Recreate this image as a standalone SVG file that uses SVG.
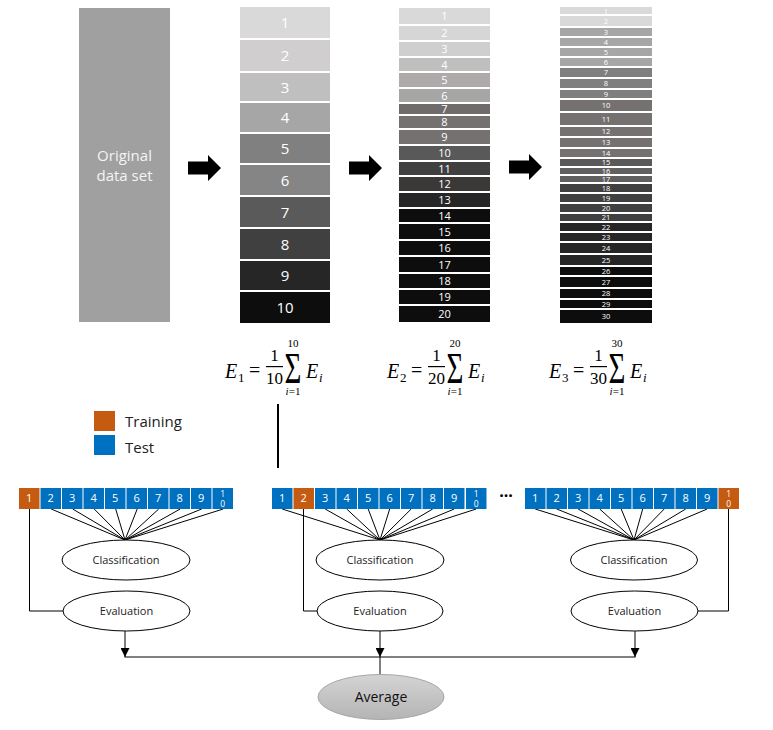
<svg xmlns="http://www.w3.org/2000/svg" width="773" height="730" viewBox="0 0 773 730">
<defs>
<style>
.t{font-family:"Open Sans","Noto Sans",sans-serif;fill:#fff;text-anchor:middle}
.c1{font-size:15px}.c2{font-size:11px}.c3{font-size:7.5px}
.bx{font-family:"Open Sans","Noto Sans",sans-serif;fill:#fff;text-anchor:middle;font-size:11px}
.bs{font-size:8.5px}
.lbl{font-family:"Open Sans","Noto Sans",sans-serif;fill:#222;text-anchor:middle;font-size:11px}
.leg{font-family:"Open Sans","Noto Sans",sans-serif;fill:#222;font-size:15px}
.m{font-family:"Liberation Serif","DejaVu Serif",serif;fill:#000}
.mi{font-style:italic}
.blue{fill:#0070c0}.orange{fill:#c55a11}
.ln{stroke:#000;stroke-width:1;fill:none}
.el{fill:#fff;stroke:#000;stroke-width:1}
</style>
<marker id="ah" viewBox="0 0 10 10" refX="10" refY="5" markerWidth="9" markerHeight="9" markerUnits="userSpaceOnUse" orient="auto">
<path d="M0,0 L10,5 L0,10 z" fill="#000"/>
</marker>
<linearGradient id="avg" x1="0" y1="0" x2="0" y2="1">
<stop offset="0" stop-color="#d4d4d4"/><stop offset="1" stop-color="#b4b4b4"/>
</linearGradient>
<path id="arr" d="M0,-6.5 L20,-6.5 L20,-13 L33,0 L20,13 L20,6.5 L0,6.5 z" fill="#000"/>
</defs>
<rect width="773" height="730" fill="#fff"/>

<g id="original">
<rect x="79" y="8" width="91" height="314" fill="#a0a0a0"/>
<text class="t" x="124.5" y="161" style="font-size:15px;fill:#f4f4f4">Original</text>
<text class="t" x="124.5" y="181" style="font-size:15px;fill:#f4f4f4">data set</text>
</g>

<g id="arrows">
<use href="#arr" x="188" y="168"/>
<use href="#arr" x="349" y="168"/>
<use href="#arr" x="509" y="167"/>
</g>

<g id="col10">
<rect x="240" y="7" width="90" height="31" fill="#d9d9d9"/><text class="t c1" x="285" y="28">1</text>
<rect x="240" y="40" width="90" height="31" fill="#d0cece"/><text class="t c1" x="285" y="61">2</text>
<rect x="240" y="73" width="90" height="28" fill="#bfbfbf"/><text class="t c1" x="285" y="92.5">3</text>
<rect x="240" y="103" width="90" height="29" fill="#a6a6a6"/><text class="t c1" x="285" y="123">4</text>
<rect x="240" y="134" width="90" height="29" fill="#808080"/><text class="t c1" x="285" y="154">5</text>
<rect x="240" y="165" width="90" height="30" fill="#858585"/><text class="t c1" x="285" y="185.5">6</text>
<rect x="240" y="197" width="90" height="30" fill="#5a5a5a"/><text class="t c1" x="285" y="217.5">7</text>
<rect x="240" y="229" width="90" height="30" fill="#404040"/><text class="t c1" x="285" y="249.5">8</text>
<rect x="240" y="261" width="90" height="29" fill="#262626"/><text class="t c1" x="285" y="281">9</text>
<rect x="240" y="292" width="90" height="31" fill="#0d0d0d"/><text class="t c1" x="285" y="313">10</text>
</g>

<g id="col20">
<rect x="399" y="8" width="91" height="16" fill="#d9d9d9"/><text class="t c2" x="444.5" y="20">1</text>
<rect x="399" y="26" width="91" height="14" fill="#d6d6d6"/><text class="t c2" x="444.5" y="37">2</text>
<rect x="399" y="42" width="91" height="14" fill="#cfcfcf"/><text class="t c2" x="444.5" y="53">3</text>
<rect x="399" y="58" width="91" height="13" fill="#bfbfbf"/><text class="t c2" x="444.5" y="68.5">4</text>
<rect x="399" y="73" width="91" height="14" fill="#aeaaaa"/><text class="t c2" x="444.5" y="84">5</text>
<rect x="399" y="89" width="91" height="13" fill="#a6a6a6"/><text class="t c2" x="444.5" y="99.5">6</text>
<rect x="399" y="104" width="91" height="10" fill="#6f6b6b"/><text class="t c2" x="444.5" y="113">7</text>
<rect x="399" y="116" width="91" height="12" fill="#767171"/><text class="t c2" x="444.5" y="126">8</text>
<rect x="399" y="130" width="91" height="14" fill="#767171"/><text class="t c2" x="444.5" y="141">9</text>
<rect x="399" y="146" width="91" height="14" fill="#595959"/><text class="t c2" x="444.5" y="157">10</text>
<rect x="399" y="162" width="91" height="13" fill="#404040"/><text class="t c2" x="444.5" y="172.5">11</text>
<rect x="399" y="177" width="91" height="14" fill="#3b3838"/><text class="t c2" x="444.5" y="188">12</text>
<rect x="399" y="193" width="91" height="14" fill="#262626"/><text class="t c2" x="444.5" y="204">13</text>
<rect x="399" y="209" width="91" height="13" fill="#0d0d0d"/><text class="t c2" x="444.5" y="219.5">14</text>
<rect x="399" y="224" width="91" height="15" fill="#0d0d0d"/><text class="t c2" x="444.5" y="235.5">15</text>
<rect x="399" y="241" width="91" height="14" fill="#0d0d0d"/><text class="t c2" x="444.5" y="252">16</text>
<rect x="399" y="257" width="91" height="15" fill="#0d0d0d"/><text class="t c2" x="444.5" y="268.5">17</text>
<rect x="399" y="274" width="91" height="14" fill="#0d0d0d"/><text class="t c2" x="444.5" y="285">18</text>
<rect x="399" y="290" width="91" height="14" fill="#0d0d0d"/><text class="t c2" x="444.5" y="301">19</text>
<rect x="399" y="306" width="91" height="16" fill="#0d0d0d"/><text class="t c2" x="444.5" y="318">20</text>
</g>

<g id="col30">
<rect x="560" y="7" width="92" height="7" fill="#d9d9d9"/><text class="t c3" x="606" y="13.5">1</text>
<rect x="560" y="16" width="92" height="10" fill="#d9d9d9"/><text class="t c3" x="606" y="23.5">2</text>
<rect x="560" y="28" width="92" height="8" fill="#a6a6a6"/><text class="t c3" x="606" y="34.5">3</text>
<rect x="560" y="38" width="92" height="8" fill="#a6a6a6"/><text class="t c3" x="606" y="44.5">4</text>
<rect x="560" y="48" width="92" height="8" fill="#a6a6a6"/><text class="t c3" x="606" y="54.5">5</text>
<rect x="560" y="58" width="92" height="8" fill="#a6a6a6"/><text class="t c3" x="606" y="64.5">6</text>
<rect x="560" y="68" width="92" height="9" fill="#7f7f7f"/><text class="t c3" x="606" y="75">7</text>
<rect x="560" y="79" width="92" height="9" fill="#7f7f7f"/><text class="t c3" x="606" y="86">8</text>
<rect x="560" y="90" width="92" height="8" fill="#7f7f7f"/><text class="t c3" x="606" y="96.5">9</text>
<rect x="560" y="100" width="92" height="11" fill="#767171"/><text class="t c3" x="606" y="108">10</text>
<rect x="560" y="113" width="92" height="12" fill="#767171"/><text class="t c3" x="606" y="121.5">11</text>
<rect x="560" y="127" width="92" height="9" fill="#767171"/><text class="t c3" x="606" y="134">12</text>
<rect x="560" y="138" width="92" height="9" fill="#767171"/><text class="t c3" x="606" y="145">13</text>
<rect x="560" y="149" width="92" height="8" fill="#767171"/><text class="t c3" x="606" y="155.5">14</text>
<rect x="560" y="159" width="92" height="7" fill="#595959"/><text class="t c3" x="606" y="165">15</text>
<rect x="560" y="168" width="92" height="6" fill="#606060"/><text class="t c3" x="606" y="173.5">16</text>
<rect x="560" y="176" width="92" height="6" fill="#606060"/><text class="t c3" x="606" y="181.5">17</text>
<rect x="560" y="184" width="92" height="8" fill="#404040"/><text class="t c3" x="606" y="190.5">18</text>
<rect x="560" y="194" width="92" height="8" fill="#404040"/><text class="t c3" x="606" y="200.5">19</text>
<rect x="560" y="204" width="92" height="8" fill="#404040"/><text class="t c3" x="606" y="210.5">20</text>
<rect x="560" y="214" width="92" height="7" fill="#404040"/><text class="t c3" x="606" y="220">21</text>
<rect x="560" y="223" width="92" height="8" fill="#262626"/><text class="t c3" x="606" y="229.5">22</text>
<rect x="560" y="233" width="92" height="8" fill="#262626"/><text class="t c3" x="606" y="239.5">23</text>
<rect x="560" y="243" width="92" height="10" fill="#262626"/><text class="t c3" x="606" y="250.5">24</text>
<rect x="560" y="255" width="92" height="10" fill="#262626"/><text class="t c3" x="606" y="262.5">25</text>
<rect x="560" y="267" width="92" height="8" fill="#0d0d0d"/><text class="t c3" x="606" y="273.5">26</text>
<rect x="560" y="277" width="92" height="10" fill="#0d0d0d"/><text class="t c3" x="606" y="284.5">27</text>
<rect x="560" y="289" width="92" height="9" fill="#0d0d0d"/><text class="t c3" x="606" y="296">28</text>
<rect x="560" y="300" width="92" height="8" fill="#0d0d0d"/><text class="t c3" x="606" y="306.5">29</text>
<rect x="560" y="310" width="92" height="13" fill="#0d0d0d"/><text class="t c3" x="606" y="319">30</text>
</g>

<g id="formula1">
<text x="225" y="378" font-size="20" class="m mi">E</text>
<text x="238" y="382" font-size="13" class="m">1</text>
<text x="249" y="377" font-size="20" class="m">=</text>
<text x="274.5" y="361" font-size="17" text-anchor="middle" class="m">1</text>
<rect x="266" y="366" width="17" height="1.2" fill="#000"/>
<text x="274.5" y="384" font-size="17" text-anchor="middle" class="m">10</text>
<text transform="translate(293,383) scale(1,1.5)" font-size="29" text-anchor="middle" class="m">Σ</text>
<text x="293" y="347" font-size="11" text-anchor="middle" class="m">10</text>
<text x="293" y="395" font-size="11" text-anchor="middle" class="m"><tspan class="mi">i</tspan>=1</text>
<text x="306" y="378" font-size="20" class="m mi">E</text>
<text x="319" y="382" font-size="13" class="m mi">i</text>
</g>

<g id="formula2">
<text x="387" y="378" font-size="20" class="m mi">E</text>
<text x="400" y="382" font-size="13" class="m">2</text>
<text x="411" y="377" font-size="20" class="m">=</text>
<text x="436.5" y="361" font-size="17" text-anchor="middle" class="m">1</text>
<rect x="428" y="366" width="17" height="1.2" fill="#000"/>
<text x="436.5" y="384" font-size="17" text-anchor="middle" class="m">20</text>
<text transform="translate(455,383) scale(1,1.5)" font-size="29" text-anchor="middle" class="m">Σ</text>
<text x="455" y="347" font-size="11" text-anchor="middle" class="m">20</text>
<text x="455" y="395" font-size="11" text-anchor="middle" class="m"><tspan class="mi">i</tspan>=1</text>
<text x="468" y="378" font-size="20" class="m mi">E</text>
<text x="481" y="382" font-size="13" class="m mi">i</text>
</g>

<g id="formula3">
<text x="549" y="378" font-size="20" class="m mi">E</text>
<text x="562" y="382" font-size="13" class="m">3</text>
<text x="573" y="377" font-size="20" class="m">=</text>
<text x="598.5" y="361" font-size="17" text-anchor="middle" class="m">1</text>
<rect x="590" y="366" width="17" height="1.2" fill="#000"/>
<text x="598.5" y="384" font-size="17" text-anchor="middle" class="m">30</text>
<text transform="translate(617,383) scale(1,1.5)" font-size="29" text-anchor="middle" class="m">Σ</text>
<text x="617" y="347" font-size="11" text-anchor="middle" class="m">30</text>
<text x="617" y="395" font-size="11" text-anchor="middle" class="m"><tspan class="mi">i</tspan>=1</text>
<text x="630" y="378" font-size="20" class="m mi">E</text>
<text x="643" y="382" font-size="13" class="m mi">i</text>
</g>

<g id="legend">
<rect x="94" y="411" width="21" height="20" class="orange"/>
<text class="leg" x="125" y="427">Training</text>
<rect x="94" y="435" width="21" height="20" class="blue"/>
<text class="leg" x="125" y="453">Test</text>
</g>

<g id="connectors">
<line x1="278" y1="404" x2="278" y2="468" stroke="#000" stroke-width="2"/>
<path class="ln" d="M51.2,509 L125,540 M72.7,509 L125,540 M94.2,509 L125,540 M115.7,509 L125,540 M137.2,509 L125,540 M158.7,509 L125,540 M180.2,509 L125,540 M201.7,509 L125,540 M223.2,509 L125,540"/>
<path class="ln" d="M29.5,509 L29.5,611 L63,611"/>
<path class="ln" d="M282.2,509 L380,540 M325.2,509 L380,540 M346.7,509 L380,540 M368.2,509 L380,540 M389.7,509 L380,540 M411.2,509 L380,540 M432.7,509 L380,540 M454.2,509 L380,540 M476.2,509 L380,540"/>
<path class="ln" d="M303.5,509 L303.5,611 L317,611"/>
<path class="ln" d="M535.2,509 L634,540 M556.7,509 L634,540 M578.2,509 L634,540 M599.7,509 L634,540 M621.2,509 L634,540 M642.7,509 L634,540 M664.2,509 L634,540 M685.7,509 L634,540 M707.2,509 L634,540"/>
<path class="ln" d="M728.5,509 L728.5,611 L698,611"/>
<line class="ln" x1="125" y1="631" x2="125" y2="657" marker-end="url(#ah)"/>
<line class="ln" x1="380" y1="631" x2="380" y2="657" marker-end="url(#ah)"/>
<line class="ln" x1="635" y1="631" x2="635" y2="657" marker-end="url(#ah)"/>
<line class="ln" x1="124.5" y1="657" x2="635.5" y2="657"/>
<line class="ln" x1="380" y1="657" x2="380" y2="675"/>
</g>

<g id="row1">
<rect x="19" y="488" width="20.5" height="21" class="orange"/><text class="bx" x="29.2" y="502">1</text>
<rect x="40.5" y="488" width="20.5" height="21" class="blue"/><text class="bx" x="50.7" y="502">2</text>
<rect x="62" y="488" width="20.5" height="21" class="blue"/><text class="bx" x="72.2" y="502">3</text>
<rect x="83.5" y="488" width="20.5" height="21" class="blue"/><text class="bx" x="93.7" y="502">4</text>
<rect x="105" y="488" width="20.5" height="21" class="blue"/><text class="bx" x="115.2" y="502">5</text>
<rect x="126.5" y="488" width="20.5" height="21" class="blue"/><text class="bx" x="136.7" y="502">6</text>
<rect x="148" y="488" width="20.5" height="21" class="blue"/><text class="bx" x="158.2" y="502">7</text>
<rect x="169.5" y="488" width="20.5" height="21" class="blue"/><text class="bx" x="179.7" y="502">8</text>
<rect x="191" y="488" width="20.5" height="21" class="blue"/><text class="bx" x="201.2" y="502">9</text>
<rect x="212.5" y="488" width="20.5" height="21" class="blue"/><text class="bx bs" x="222.7" y="497">1</text><text class="bx bs" x="222.7" y="507">0</text>
</g>

<g id="row2">
<rect x="272" y="488" width="20.5" height="21" class="blue"/><text class="bx" x="282.2" y="502">1</text>
<rect x="293.5" y="488" width="20.5" height="21" class="orange"/><text class="bx" x="303.7" y="502">2</text>
<rect x="315" y="488" width="20.5" height="21" class="blue"/><text class="bx" x="325.2" y="502">3</text>
<rect x="336.5" y="488" width="20.5" height="21" class="blue"/><text class="bx" x="346.7" y="502">4</text>
<rect x="358" y="488" width="20.5" height="21" class="blue"/><text class="bx" x="368.2" y="502">5</text>
<rect x="379.5" y="488" width="20.5" height="21" class="blue"/><text class="bx" x="389.7" y="502">6</text>
<rect x="401" y="488" width="20.5" height="21" class="blue"/><text class="bx" x="411.2" y="502">7</text>
<rect x="422.5" y="488" width="20.5" height="21" class="blue"/><text class="bx" x="432.7" y="502">8</text>
<rect x="444" y="488" width="20.5" height="21" class="blue"/><text class="bx" x="454.2" y="502">9</text>
<rect x="466" y="488" width="20.5" height="21" class="blue"/><text class="bx bs" x="476.2" y="497">1</text><text class="bx bs" x="476.2" y="507">0</text>
</g>

<text id="ellipsis" x="506" y="501" text-anchor="middle" font-family="'Open Sans',sans-serif" font-size="16" font-weight="bold" fill="#000">···</text>

<g id="row3">
<rect x="525" y="488" width="20.5" height="21" class="blue"/><text class="bx" x="535.2" y="502">1</text>
<rect x="546.5" y="488" width="20.5" height="21" class="blue"/><text class="bx" x="556.7" y="502">2</text>
<rect x="568" y="488" width="20.5" height="21" class="blue"/><text class="bx" x="578.2" y="502">3</text>
<rect x="589.5" y="488" width="20.5" height="21" class="blue"/><text class="bx" x="599.7" y="502">4</text>
<rect x="611" y="488" width="20.5" height="21" class="blue"/><text class="bx" x="621.2" y="502">5</text>
<rect x="632.5" y="488" width="20.5" height="21" class="blue"/><text class="bx" x="642.7" y="502">6</text>
<rect x="654" y="488" width="20.5" height="21" class="blue"/><text class="bx" x="664.2" y="502">7</text>
<rect x="675.5" y="488" width="20.5" height="21" class="blue"/><text class="bx" x="685.7" y="502">8</text>
<rect x="697" y="488" width="20.5" height="21" class="blue"/><text class="bx" x="707.2" y="502">9</text>
<rect x="718.5" y="488" width="20.5" height="21" class="orange"/><text class="bx bs" x="728.7" y="497">1</text><text class="bx bs" x="728.7" y="507">0</text>
</g>

<g id="classification1"><ellipse class="el" cx="126" cy="560" rx="64" ry="20"/><text class="lbl" x="126" y="564">Classification</text></g>
<g id="evaluation1"><ellipse class="el" cx="126.5" cy="611" rx="63.5" ry="20"/><text class="lbl" x="126.5" y="615">Evaluation</text></g>
<g id="classification2"><ellipse class="el" cx="380" cy="560" rx="64" ry="20"/><text class="lbl" x="380" y="564">Classification</text></g>
<g id="evaluation2"><ellipse class="el" cx="380" cy="611" rx="63" ry="20"/><text class="lbl" x="380" y="615">Evaluation</text></g>
<g id="classification3"><ellipse class="el" cx="634" cy="560" rx="63.5" ry="20"/><text class="lbl" x="634" y="564">Classification</text></g>
<g id="evaluation3"><ellipse class="el" cx="634.5" cy="611" rx="63.5" ry="20"/><text class="lbl" x="634.5" y="615">Evaluation</text></g>

<g id="average"><ellipse cx="381" cy="697" rx="63" ry="22.5" fill="url(#avg)" stroke="#a6a6a6" stroke-width="1"/><text class="lbl" x="381" y="702" style="font-size:14px;fill:#111">Average</text></g>
</svg>
